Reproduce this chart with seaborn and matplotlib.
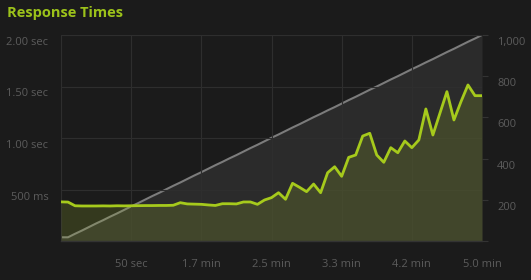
import matplotlib
matplotlib.use("Agg")
import matplotlib.pyplot as plt
import matplotlib.transforms as mtransforms
import seaborn as sns
import pandas as pd

# ---- data ----
seconds = [0, 5, 10, 15, 20, 25, 30, 35, 40, 45, 50, 55, 60, 65, 70, 75, 80, 85, 90, 95,
           100, 105, 110, 115, 120, 125, 130, 135, 140, 145, 150, 155, 160, 165, 170, 175,
           180, 185, 190, 195, 200, 205, 210, 215, 220, 225, 230, 235, 240, 245, 250, 255,
           260, 265, 270, 275, 280, 285, 290, 295, 300]
response_ms = [380, 378, 342, 340, 340, 340, 341, 340, 342, 341, 342, 343, 344, 344, 345, 345,
               347, 372, 360, 358, 356, 350, 345, 362, 362, 360, 379, 379, 356, 398, 421, 469,
               405, 560, 521, 479, 553, 469, 663, 721, 628, 812, 835, 1019, 1046, 835, 764, 906,
               857, 971, 906, 981, 1282, 1029, 1240, 1450, 1175, 1352, 1515, 1411, 1411]
users = [18, 18, 35, 51, 68, 85, 101, 118, 134, 151, 168, 184, 201, 218, 234, 251, 268, 284,
         301, 318, 334, 351, 368, 384, 401, 417, 434, 451, 467, 484, 501, 517, 534, 551, 567,
         584, 601, 617, 634, 650, 667, 684, 700, 717, 734, 750, 767, 784, 800, 817, 834, 850,
         867, 883, 900, 917, 933, 950, 967, 983, 1000]

x_ticks = [0, 50, 100, 150, 200, 250, 300]
x_labels = ["", "50 sec", "1.7 min", "2.5 min", "3.3 min", "4.2 min", "5.0 min"]
left_ticks = [0, 500, 1000, 1500, 2000]
left_labels = ["", "500 ms", "1.00 sec", "1.50 sec", "2.00 sec"]
right_ticks = [0, 200, 400, 600, 800, 1000]
right_labels = ["", "200", "400", "600", "800", "1,000"]
title = "Response Times"

df = pd.DataFrame({"t": seconds, "ms": response_ms, "users": users})

BG = "#1b1b1b"
GRID = "#2e2e2e"
TXT = "#5c5c5c"
GREEN = "#a6ca1c"

sns.set_theme(style="dark")
plt.rcParams["font.family"] = ["Open Sans", "DejaVu Sans"]

fig = plt.figure(figsize=(5.31, 2.80), dpi=100, facecolor=BG)
ax = fig.add_axes([61 / 531, 1 - 241 / 280, (482 - 61) / 531, (241 - 35) / 280])
ax2 = ax.twinx()

# right axis (users) drawn underneath
ax2.set_facecolor(BG)
ax.set_zorder(ax2.get_zorder() + 1)
ax.patch.set_visible(False)

ax2.fill_between(df["t"], df["users"], 0, color="#2b2b2b", linewidth=0, zorder=1)
sns.lineplot(data=df, x="t", y="users", ax=ax2, color="#7c7c7c", linewidth=1.5, zorder=3)

# left axis (response times)
ax.fill_between(df["t"], df["ms"], 0, color=(157 / 255, 182 / 255, 47 / 255), alpha=0.2,
                linewidth=0, zorder=2)
sns.lineplot(data=df, x="t", y="ms", ax=ax, color=GREEN, linewidth=2.0, zorder=4)

ax.set_xlim(0, 300)
ax.set_ylim(0, 2000)
ax2.set_ylim(0, 1000)

ax.set_xticks(x_ticks)
ax.set_xticklabels(x_labels)
ax.set_yticks(left_ticks)
ax.set_yticklabels(left_labels)
ax2.set_yticks(right_ticks)
ax2.set_yticklabels(right_labels)

ax.set_xlabel("")
ax.set_ylabel("")
ax2.set_xlabel("")
ax2.set_ylabel("")

ax.grid(True, color=GRID, linewidth=0.8)
ax.set_axisbelow(True)
ax2.grid(False)

ax.tick_params(axis="x", length=0, pad=13, labelsize=8, colors=TXT)
ax.tick_params(axis="y", length=0, pad=9, labelsize=8, colors=TXT)
ax2.tick_params(axis="y", length=4, width=0.8, color="#333333", pad=7, labelsize=8,
                labelcolor=TXT, right=True)

for a in (ax, ax2):
    for s in a.spines.values():
        s.set_visible(False)
ax.spines["bottom"].set_visible(True)
ax.spines["bottom"].set_color("#333333")
ax.spines["bottom"].set_linewidth(1)

# labels sit slightly below their grid lines
off = mtransforms.ScaledTranslation(0, -6 / 100, fig.dpi_scale_trans)
for lab in ax.get_yticklabels() + ax2.get_yticklabels():
    lab.set_transform(lab.get_transform() + off)

fig.text(7 / 531, 1 - 13 / 280, title, color="#9cc21a", fontsize=10.5, fontweight="bold",
         va="center", ha="left")

fig.savefig("out.png", dpi=100, facecolor=BG)
